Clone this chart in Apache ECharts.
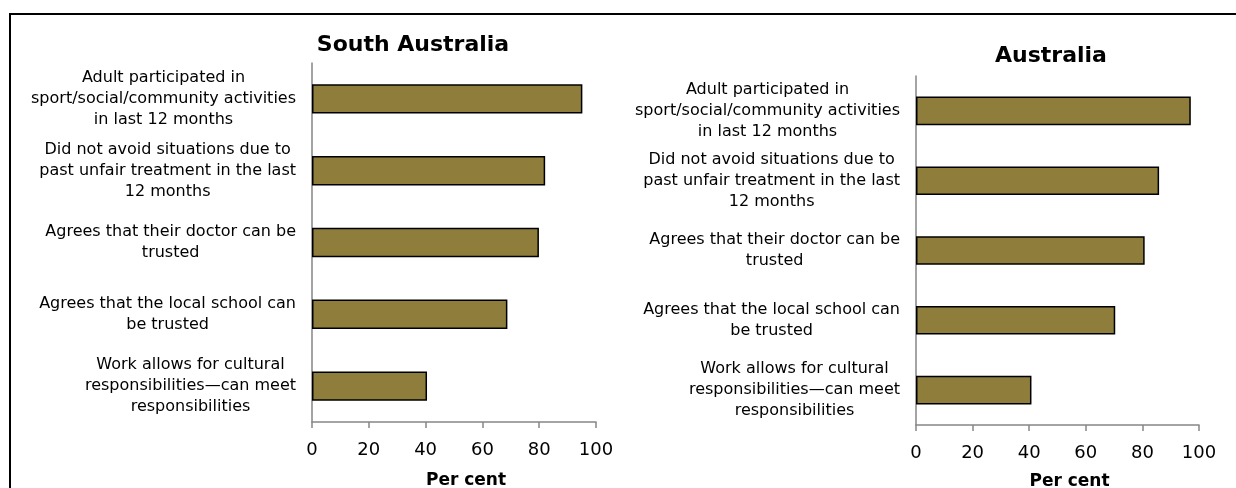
<!DOCTYPE html>
<html>
<head>
<meta charset="utf-8">
<script src="https://cdn.jsdelivr.net/npm/echarts@6/dist/echarts.min.js"></script>
<style>
    html, body { margin: 0; padding: 0; background: #fff; }
    #main { width: 1236px; height: 488px; }
</style>
</head>
<body>
<div id="main"></div>
<script>
var categories = [
    'Adult participated in\nsport/social/community activities\nin last 12 months',
    'Did not avoid situations due to\npast unfair treatment in the last\n12 months',
    'Agrees that their doctor can be\ntrusted',
    'Agrees that the local school can\nbe trusted',
    'Work allows for cultural\nresponsibilities\u2014can meet\nresponsibilities'
];
var saValues = [95.2, 82.1, 79.9, 68.8, 40.5];
var ausValues = [97.1, 85.9, 80.8, 70.4, 40.8];
var panelTitles = ['South Australia', 'Australia'];
var axisName = 'Per cent';

var font = 'DejaVu Sans';
var axisGray = '#868686';
var barColor = '#8F7D3C';

// category labels: whole block right next to the axis, lines centred inside it
function catLabel(value) {
    return value.split('\n').map(function (line) {
        return '{c|' + line + '}';
    }).join('\n');
}

function makeYAxis(idx) {
    return {
        type: 'category',
        gridIndex: idx,
        data: categories,
        inverse: true,
        axisLine: { lineStyle: { color: axisGray, width: 1.5 } },
        axisTick: { lineStyle: { color: axisGray, width: 1.5 }, length: 5 },
        axisLabel: {
            margin: 16,
            formatter: catLabel,
            rich: {
                c: {
                    align: 'center',
                    fontFamily: font,
                    fontSize: 16,
                    lineHeight: 21,
                    color: '#000'
                }
            }
        }
    };
}

function makeXAxis(idx, labelGap, gap) {
    return {
        type: 'value',
        gridIndex: idx,
        min: 0,
        max: 100,
        interval: 20,
        splitLine: { show: false },
        axisLine: { show: true, lineStyle: { color: axisGray, width: 1.5 } },
        axisTick: { show: true, length: 6, lineStyle: { color: axisGray, width: 1.5 } },
        axisLabel: { margin: labelGap, fontFamily: font, fontSize: 18, color: '#000' },
        name: axisName,
        nameLocation: 'middle',
        nameGap: gap,
        nameTextStyle: {
            fontFamily: font,
            fontSize: 17,
            fontWeight: 'bold',
            color: '#000',
            padding: [0, 0, 0, 24]
        }
    };
}

function makeSeries(idx, values) {
    return {
        type: 'bar',
        xAxisIndex: idx,
        yAxisIndex: idx,
        data: values,
        barCategoryGap: '59%',
        silent: true,
        itemStyle: { color: barColor, borderColor: '#000', borderWidth: 1.5 }
    };
}

var chart = echarts.init(document.getElementById('main'));

var option = {
    animation: false,
    title: [
        {
            text: panelTitles[0],
            left: 408,
            top: 29,
            textAlign: 'center',
            textStyle: { fontFamily: font, fontSize: 22, fontWeight: 'bold', color: '#000' }
        },
        {
            text: panelTitles[1],
            left: 1046,
            top: 40,
            textAlign: 'center',
            textStyle: { fontFamily: font, fontSize: 22, fontWeight: 'bold', color: '#000' }
        }
    ],
    grid: [
        { left: 312, top: 63, width: 284, height: 359, outerBoundsMode: 'none' },
        { left: 916, top: 76, width: 283, height: 349, outerBoundsMode: 'none' }
    ],
    xAxis: [makeXAxis(0, 19, 50), makeXAxis(1, 19, 48)],
    yAxis: [makeYAxis(0), makeYAxis(1)],
    series: [makeSeries(0, saValues), makeSeries(1, ausValues)],
    graphic: [
        { // outer frame, cut off at right and bottom like the source
            type: 'rect',
            silent: true,
            shape: { x: 10, y: 14, width: 2000, height: 2000 },
            style: { fill: 'none', stroke: '#000', lineWidth: 2 }
        }
    ]
};

chart.setOption(option);
</script>
</body>
</html>
